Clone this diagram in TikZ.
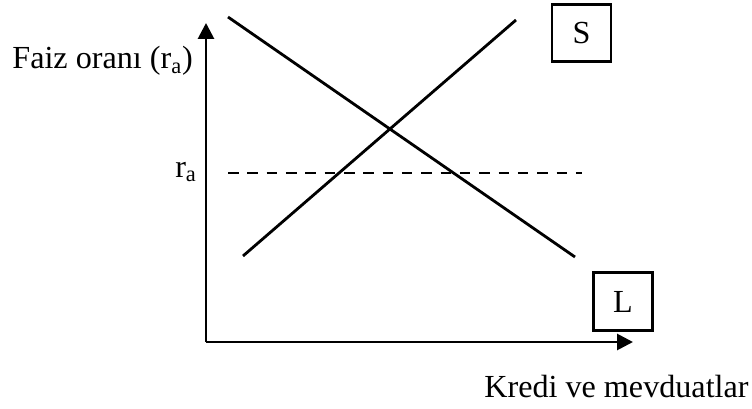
\documentclass[tikz,border=0pt]{standalone}
\usepackage{fontspec}
\setmainfont{Liberation Serif}
\usetikzlibrary{arrows.meta}

\tikzset{curvebox/.style={draw,line width=1.6pt,minimum width=1.18cm,minimum height=1.15cm,inner sep=0pt}}

\begin{document}
\begin{tikzpicture}[>={Triangle[length=9pt,width=9pt]},x=0.02cm,y=-0.02cm,
    line width=1.6pt,font=\fontsize{18.3}{20}\selectfont]
  \useasboundingbox (0,0) rectangle (752,409);
  % axes
  \coordinate (O) at (206,342);
  \coordinate (ytop) at (206,23);
  \coordinate (xend) at (633,342);
  \draw[->] (O) -- (ytop);
  \draw[->] (O) -- (xend);
  \node[anchor=base west,inner sep=0pt] (ylab) at (11,69) {Faiz oranı (r\textsubscript{a})};
  \node[anchor=base east,inner sep=0pt] (xlab) at (750,398) {Kredi ve mevduatlar};
  % demand (L) and supply (S) lines
  \coordinate (L1) at (228,17);
  \coordinate (L2) at (575,257);
  \coordinate (S1) at (243,256);
  \coordinate (S2) at (516,20);
  \draw (L1) -- (L2);
  \draw (S1) -- (S2);
  \node[curvebox] (S) at (581.5,33) {S};
  \node[curvebox] (L) at (623,301.5) {L};
  % interest level
  \node[anchor=east,inner sep=1pt] (ra) at (200,172) {r\textsubscript{a}};
  \coordinate (d1) at (228,173);
  \coordinate (d2) at (582,173);
  \draw[dash pattern=on 6pt off 5pt,line width=1pt] (d1) -- (d2);
\end{tikzpicture}
\end{document}
